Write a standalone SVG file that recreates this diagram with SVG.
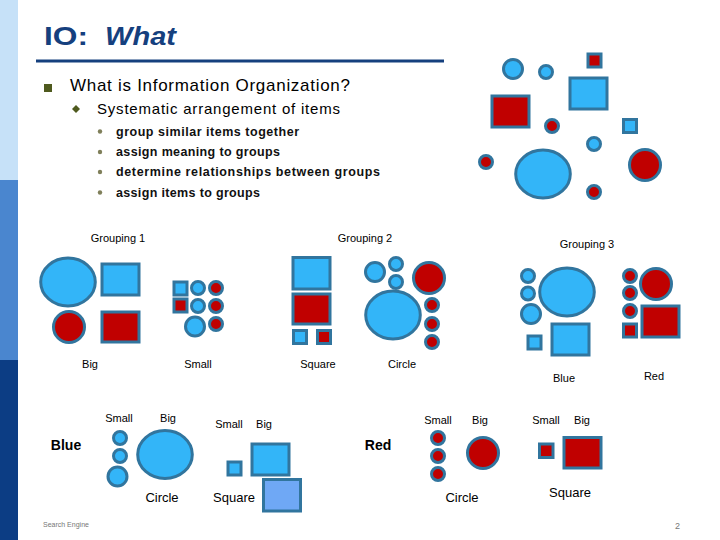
<svg xmlns="http://www.w3.org/2000/svg" width="720" height="540" viewBox="0 0 720 540">
<style>
text{font-family:"Liberation Sans",Arial,sans-serif;fill:#000}
.b{fill:#33b5f8;stroke:#31759e;stroke-width:3}
.r{fill:#c00000;stroke:#31759e;stroke-width:3}
.lb{fill:#6fa8f5;stroke:#31759e;stroke-width:3}
.lab{font-size:11px;text-anchor:middle}
.lab2{font-size:13px;text-anchor:middle}
.big{font-size:14px;font-weight:bold}
.sub{font-size:12.5px;font-weight:bold;fill:#111}
</style>
<defs>
<circle id="sb" r="6.5" class="b"/>
<circle id="sr" r="6.5" class="r"/>
<circle id="mb" r="9.5" class="b"/>
<circle id="br" r="15.5" class="r"/>
<ellipse id="eb" rx="27.3" ry="24" class="b"/>
</defs>
<rect x="0" y="0" width="18" height="180" fill="#c6e1f8"/>
<rect x="0" y="180" width="18" height="180" fill="#4a86cf"/>
<rect x="0" y="360" width="18" height="180" fill="#0c3d84"/>
<g id="title">
<text x="44" y="45" style="font-size:26px;font-weight:bold;fill:#15407e" textLength="44" lengthAdjust="spacingAndGlyphs">IO:</text>
<text x="105" y="45" style="font-size:26px;font-weight:bold;font-style:italic;fill:#15407e" textLength="71" lengthAdjust="spacingAndGlyphs">What</text>
<rect x="36" y="59.5" width="408" height="3" fill="#15407e"/>
</g>
<g id="bullets">
<rect x="44" y="84" width="8" height="8" fill="#4f5a1e"/>
<text x="70" y="91" style="font-size:17px" textLength="280">What is Information Organization?</text>
<path d="M76 105 l4 4 l-4 4 l-4 -4z" fill="#4f5a1e"/>
<text x="97" y="114" style="font-size:15px" textLength="243">Systematic arrangement of items</text>
<g fill="#7f7f5a">
<circle cx="100" cy="131.5" r="2.2"/><circle cx="100" cy="152" r="2.2"/><circle cx="100" cy="172" r="2.2"/><circle cx="100" cy="192.5" r="2.2"/>
</g>
<text x="116" y="136" class="sub" textLength="183">group similar items together</text>
<text x="116" y="156" class="sub" textLength="164">assign meaning to groups</text>
<text x="116" y="176" class="sub" textLength="264">determine relationships between groups</text>
<text x="116" y="197" class="sub" textLength="144">assign items to groups</text>
</g>
<g id="cluster">
<circle cx="513" cy="69" r="9.5" class="b"/>
<use href="#sb" x="546" y="72"/>
<rect x="588" y="54" width="13" height="13" class="r"/>
<rect x="570" y="78" width="37" height="31" class="b"/>
<rect x="492" y="96" width="37" height="31" class="r"/>
<use href="#sr" x="552" y="126"/>
<rect x="623.5" y="119.5" width="13" height="13" class="b"/>
<use href="#sb" x="594" y="144"/>
<use href="#sr" x="486" y="162"/>
<use href="#eb" x="543" y="174"/>
<use href="#br" x="645" y="165"/>
<use href="#sr" x="594" y="192"/>
</g>
<g id="grouping1">
<text x="118" y="242" class="lab">Grouping 1</text>
<use href="#eb" x="68" y="282"/>
<rect x="102" y="264" width="37" height="31" class="b"/>
<use href="#br" x="69" y="327"/>
<rect x="102" y="312" width="37" height="30" class="r"/>
<rect x="174" y="282" width="13" height="13" class="b"/>
<use href="#sb" x="198" y="288"/>
<use href="#sr" x="216" y="288"/>
<rect x="174" y="299" width="13" height="13" class="r"/>
<use href="#sb" x="198" y="306"/>
<use href="#sr" x="216" y="306"/>
<use href="#mb" x="195" y="326.5"/>
<use href="#sr" x="216" y="324"/>
<text x="90" y="368" class="lab">Big</text>
<text x="198" y="368" class="lab">Small</text>
</g>
<g id="grouping2">
<text x="365" y="242" class="lab">Grouping 2</text>
<rect x="293" y="257.5" width="37" height="31.5" class="b"/>
<rect x="293" y="294" width="37" height="30" class="r"/>
<rect x="293.5" y="330.5" width="13" height="13" class="b"/>
<rect x="317.5" y="330.5" width="13" height="13" class="r"/>
<use href="#mb" x="375" y="272"/>
<use href="#sb" x="396" y="264"/>
<use href="#sb" x="396" y="282"/>
<use href="#br" x="429" y="278"/>
<use href="#eb" x="393" y="315"/>
<use href="#sr" x="432" y="305"/>
<use href="#sr" x="432" y="324"/>
<use href="#sr" x="432" y="342"/>
<text x="318" y="368" class="lab">Square</text>
<text x="402" y="368" class="lab">Circle</text>
</g>
<g id="grouping3">
<text x="587" y="248" class="lab">Grouping 3</text>
<use href="#sb" x="528" y="276"/>
<use href="#sb" x="528" y="293.5"/>
<use href="#mb" x="531" y="314"/>
<use href="#eb" x="567" y="292"/>
<rect x="528" y="336" width="13" height="13" class="b"/>
<rect x="552" y="324" width="37" height="31" class="b"/>
<use href="#sr" x="630" y="276"/>
<use href="#sr" x="630" y="293"/>
<use href="#sr" x="630" y="311"/>
<rect x="623.5" y="324" width="13" height="13" class="r"/>
<use href="#br" x="656" y="284"/>
<rect x="642" y="306" width="37" height="31" class="r"/>
<text x="564" y="382" class="lab">Blue</text>
<text x="654" y="380" class="lab">Red</text>
</g>
<g id="blue">
<text x="66" y="450" class="big" text-anchor="middle">Blue</text>
<text x="119" y="422" class="lab">Small</text>
<text x="168" y="422" class="lab">Big</text>
<use href="#sb" x="120" y="438"/>
<use href="#sb" x="120" y="456"/>
<use href="#mb" x="117.5" y="476.5"/>
<use href="#eb" x="165" y="454.5"/>
<text x="162" y="502" class="lab2">Circle</text>
<text x="229" y="428" class="lab">Small</text>
<text x="264" y="428" class="lab">Big</text>
<rect x="228" y="462" width="13" height="13" class="b"/>
<rect x="252" y="444" width="37" height="31" class="b"/>
<rect x="263.5" y="479.5" width="37" height="31.5" class="lb"/>
<text x="234" y="502" class="lab2">Square</text>
</g>
<g id="red">
<text x="378" y="450" class="big" text-anchor="middle">Red</text>
<text x="438" y="424" class="lab">Small</text>
<text x="480" y="424" class="lab">Big</text>
<use href="#sr" x="438" y="438"/>
<use href="#sr" x="438" y="456"/>
<use href="#sr" x="438" y="474"/>
<use href="#br" x="483" y="453"/>
<text x="462" y="502" class="lab2">Circle</text>
<text x="546" y="424" class="lab">Small</text>
<text x="582" y="424" class="lab">Big</text>
<rect x="539.5" y="444" width="13.5" height="13.5" class="r"/>
<rect x="564" y="437.5" width="37" height="30.5" class="r"/>
<text x="570" y="497" class="lab2">Square</text>
</g>
<g id="footer">
<text x="43" y="527" style="font-size:7px;fill:#777">Search Engine</text>
<text x="675" y="529" style="font-size:9px;fill:#777">2</text>
</g>
</svg>
